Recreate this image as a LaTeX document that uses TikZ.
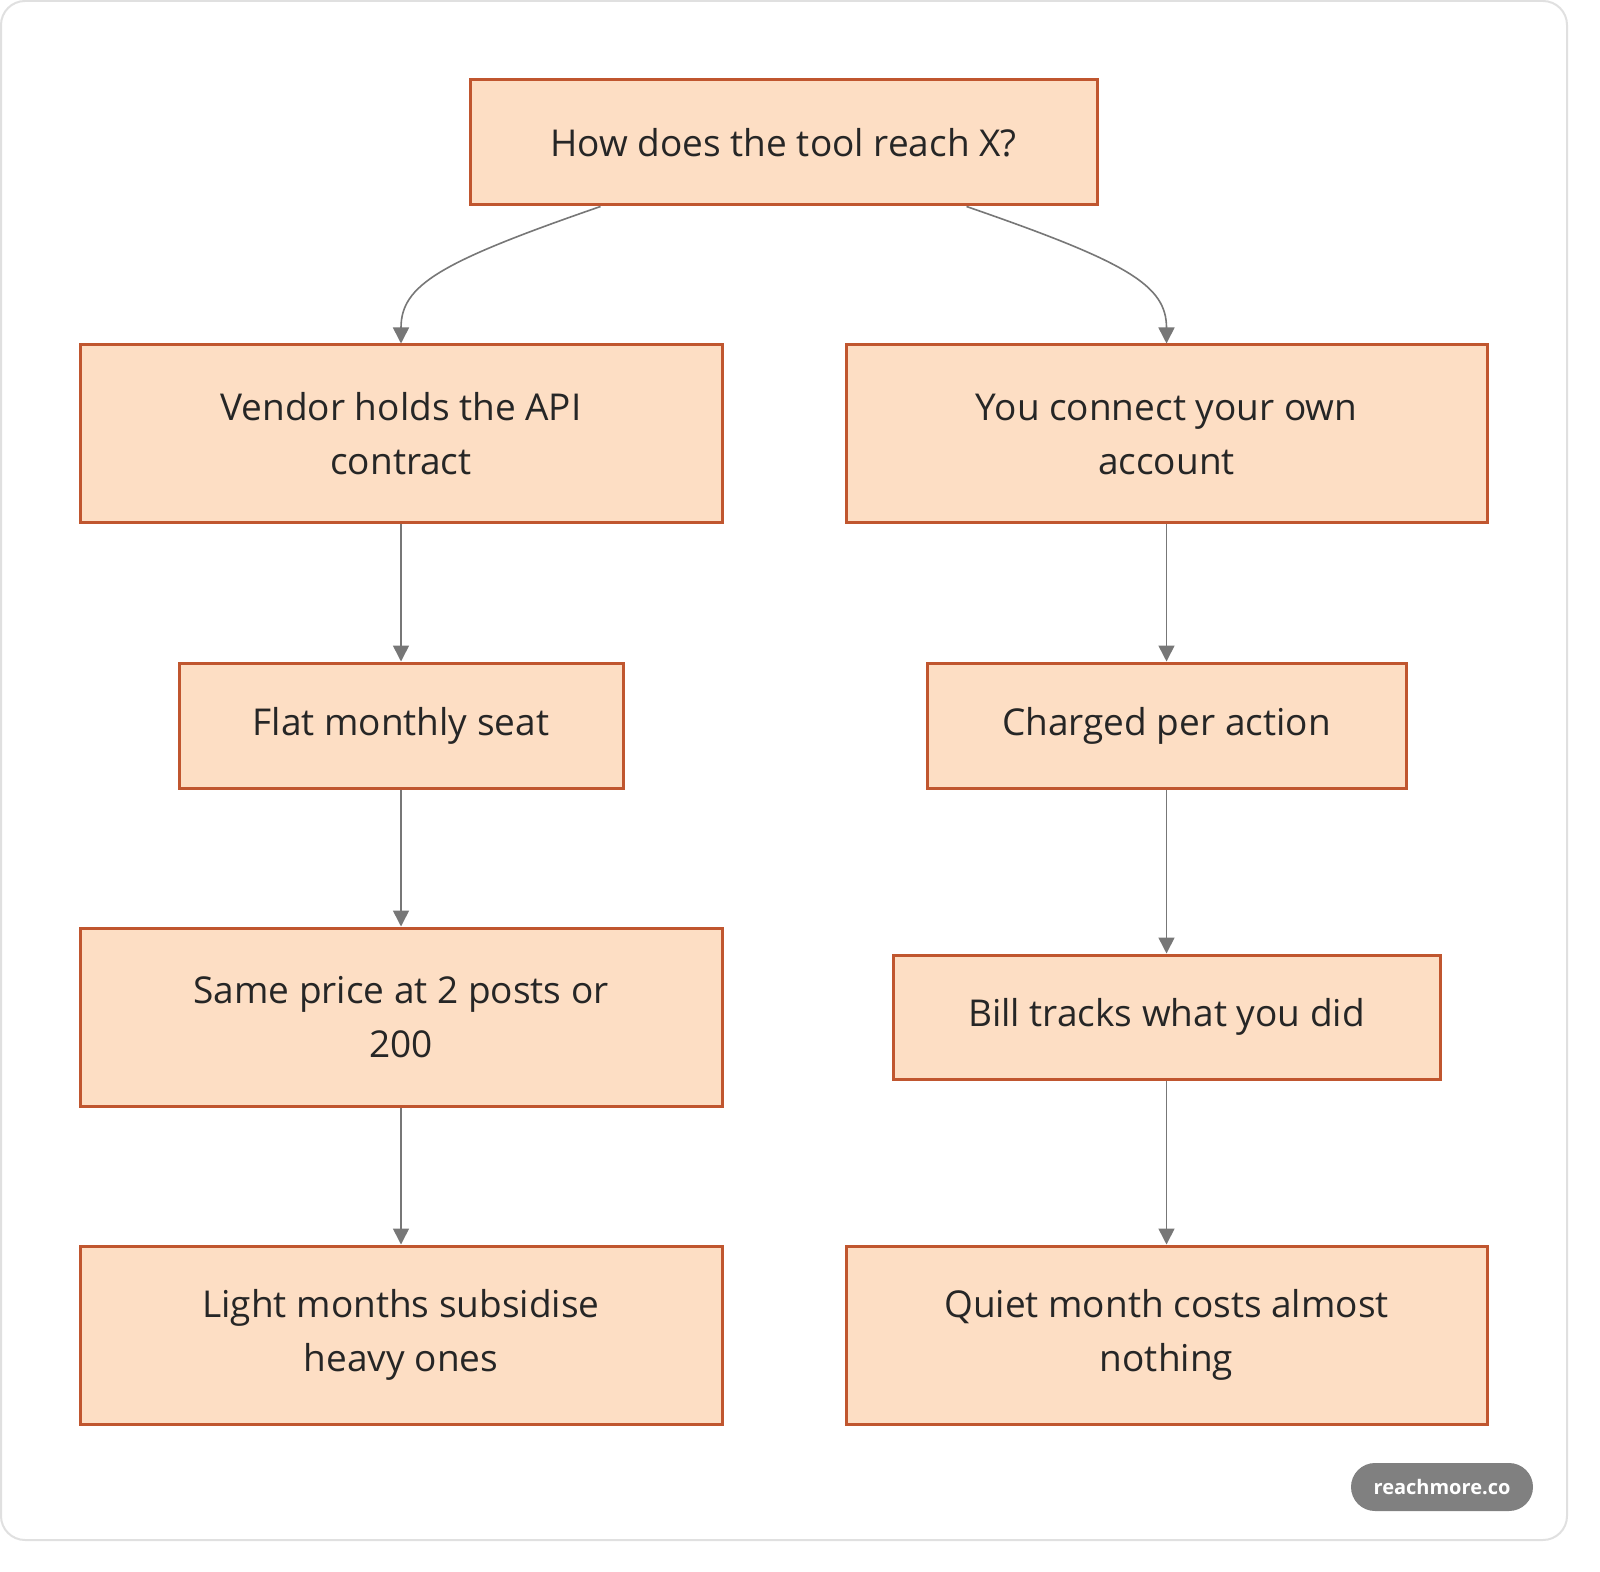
\documentclass[tikz,border=0pt]{standalone}
\usepackage{fontspec}
\setmainfont{Open Sans}
\usetikzlibrary{arrows.meta,calc}
\definecolor{boxfill}{HTML}{FDDEC4}
\definecolor{boxline}{HTML}{C0562F}
\definecolor{arr}{HTML}{777777}
\begin{document}
\begin{tikzpicture}[x=0.5pt,y=-0.5pt,
  box/.style={draw=boxline,fill=boxfill,line width=1.5pt,align=center,font=\fontsize{18.5}{27}\selectfont,text=black!85,inner sep=0pt},
  con/.style={draw=arr,line width=0.8pt,-{Triangle[length=8pt,width=8pt]}}]
\useasboundingbox (0,0) rectangle (1600,1572);
\draw[black!12,line width=1pt,fill=white,rounded corners=12pt] (1,1) rectangle (1567,1540);
\node[box,minimum width=313.5pt,minimum height=62.5pt] (top) at (783.5,142.5) {How does the tool reach X?};
\node[box,minimum width=321pt,minimum height=89pt] (ven) at (401,434) {Vendor holds the API\\contract};
\node[box,minimum width=320.5pt,minimum height=89pt] (you) at (1166.5,434) {You connect your own\\account};
\node[box,minimum width=222pt,minimum height=62.5pt] (flat) at (401,725.5) {Flat monthly seat};
\node[box,minimum width=239.5pt,minimum height=62.5pt] (chg) at (1166.5,725.5) {Charged per action};
\node[box,minimum width=321pt,minimum height=89pt] (same) at (401,1017) {Same price at 2 posts or\\200};
\node[box,minimum width=273.5pt,minimum height=62pt] (bill) at (1166.5,1017) {Bill tracks what you did};
\node[box,minimum width=321pt,minimum height=89pt] (light) at (401,1335) {Light months subsidise\\heavy ones};
\node[box,minimum width=320.5pt,minimum height=89pt] (quiet) at (1166.5,1335) {Quiet month costs almost\\nothing};
\draw[con] ($(top.south)+(-183,0)$) .. controls (440,262) and (401,285) .. (ven.north);
\draw[con] ($(top.south)+(183,0)$) .. controls (1127,262) and (1166.5,285) .. (you.north);
\draw[con] (ven) -- (flat);
\draw[con] (flat) -- (same);
\draw[con] (same) -- (light);
\draw[con] (you) -- (chg);
\draw[con] (chg) -- (bill);
\draw[con] (bill) -- (quiet);
\node[fill=black!50,rounded corners=12pt,minimum width=91pt,minimum height=24pt,text=white,font=\fontsize{10}{12}\selectfont\bfseries] (badge) at (1442,1487) {reachmore.co};
\end{tikzpicture}
\end{document}
